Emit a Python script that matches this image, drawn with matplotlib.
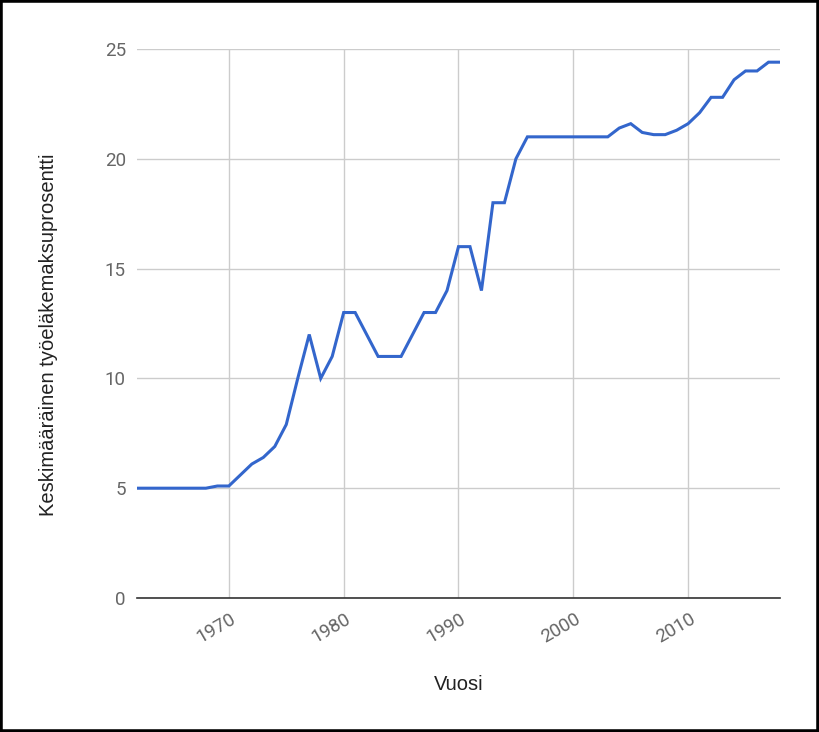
import matplotlib
matplotlib.use("Agg")
import matplotlib.pyplot as plt
from matplotlib.patches import Rectangle
from matplotlib.transforms import ScaledTranslation

# vuodet ja keskimääräinen TyEL-maksu (%)
years = list(range(1962, 2019))
rates = [5.0, 5.0, 5.0, 5.0, 5.0, 5.0, 5.0, 5.1, 5.1, 5.6,
         6.1, 6.4, 6.9, 7.9, 10.0, 12.0, 10.0, 11.0, 13.0, 13.0,
         12.0, 11.0, 11.0, 11.0, 12.0, 13.0, 13.0, 14.0, 16.0, 16.0,
         14.0, 18.0, 18.0, 20.0, 21.0, 21.0, 21.0, 21.0, 21.0, 21.0,
         21.0, 21.0, 21.4, 21.6, 21.2, 21.1, 21.1, 21.3, 21.6, 22.1,
         22.8, 22.8, 23.6, 24.0, 24.0, 24.4, 24.4]
xticks = [1970, 1980, 1990, 2000, 2010]
yticks = [0, 5, 10, 15, 20, 25]

fig = plt.figure(figsize=(8.19, 7.32), dpi=100)
ax = fig.add_axes([137/819, 1 - 598/732, 643/819, 549/732])

ax.plot(years, rates, color="#3366cc", lw=2.2, zorder=3, solid_joinstyle="miter")

ax.set_xlim(1962, 2018)
ax.set_ylim(0, 25)
ax.set_xticks(xticks)
ax.set_yticks(yticks)
ax.grid(True, color="#cccccc", lw=1.0)
ax.set_axisbelow(True)
for s in ["top", "right", "left"]:
    ax.spines[s].set_visible(False)
ax.spines["bottom"].set_color("#333333")
ax.spines["bottom"].set_linewidth(1.2)
ax.spines["bottom"].set_zorder(4)
ax.tick_params(length=0, labelsize=13.5, labelcolor="#666666")
ax.tick_params(axis="y", pad=8)
ax.tick_params(axis="x", pad=14)

for lab in ax.get_yticklabels():
    lab.set_fontfamily("Roboto")
offset = ScaledTranslation(6/100, 0, fig.dpi_scale_trans)
for lab in ax.get_xticklabels():
    lab.set_fontfamily("Roboto")
    lab.set_rotation(30)
    lab.set_ha("right")
    lab.set_va("center")
    lab.set_rotation_mode("anchor")
    lab.set_transform(lab.get_transform() + offset)

ax.set_xlabel("Vuosi", fontsize=14.5, color="#222222", family="Liberation Sans")
ax.set_ylabel("Keskimääräinen työeläkemaksuprosentti", fontsize=14.5,
              color="#222222", family="Liberation Sans")
ax.xaxis.set_label_coords(0.5, -0.157)
ax.yaxis.set_label_coords(-0.137, 0.479)
ax.xaxis.label.set_va("center")
ax.yaxis.label.set_va("center")

fig.patches.append(Rectangle((0, 0), 1, 1, transform=fig.transFigure,
                             fill=False, edgecolor="black", lw=4))

fig.savefig("out.png", dpi=100)
